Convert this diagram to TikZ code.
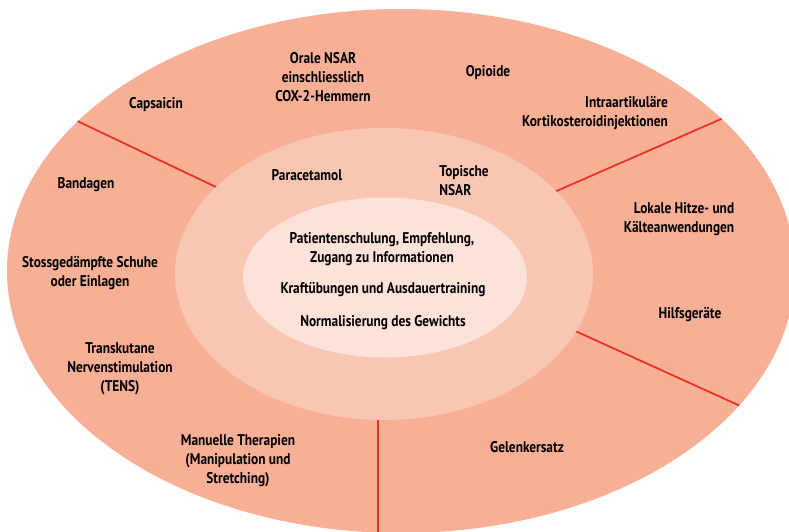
\documentclass[tikz,border=0pt]{standalone}
\usepackage{fontspec}
\setmainfont{PT Sans}[FakeStretch=0.86]
\usepackage{xcolor}

\definecolor{ringout}{RGB}{247,175,150}
\definecolor{ringmid}{RGB}{249,198,180}
\definecolor{ringin}{RGB}{252,226,216}
\definecolor{divred}{RGB}{237,50,36}

\begin{document}
\begin{tikzpicture}[x=1pt, y=-1pt]
    % Define styles
    \tikzstyle{ring}=[draw=none]
    \tikzstyle{divider}=[draw=divred, line width=1.8pt]
    \tikzstyle{label}=[align=center, inner sep=0pt, font=\bfseries\fontsize{15.5}{19}\selectfont]

    \useasboundingbox (0,0) rectangle (789,531);

    % Outer ring
    \fill[ring, ringout] (401,271) ellipse [x radius=394, y radius=262];

    % Dividers, cut at the outer edge, inner ends hidden by the middle ring
    \begin{scope}
        \clip (401,271) ellipse [x radius=394, y radius=262];
        \draw[divider] (260,208) -- (50,108);
        \draw[divider] (520,207) -- (760,102);
        \draw[divider] (540,315) -- (780,424);
        \draw[divider] (378,400) -- (378,545);
    \end{scope}

    % Middle and inner rings
    \fill[ring, ringmid] (384,274) ellipse [x radius=209, y radius=146];
    \fill[ring, ringin] (385,277.5) ellipse [x radius=142, y radius=80];

    % Outer ring: other measures
    \node[label] (capsaicin) at (156,105) {Capsaicin};
    \node[label] (nsar) at (323,77) {Orale NSAR\\einschliesslich\\COX-2-Hemmern};
    \node[label] (opioide) at (488,73) {Opioide};
    \node[label, align=right] (injekt) at (595,113.5) {Intraartikuläre\\Kortikosteroidinjektionen};
    \node[label] (bandagen) at (86,185) {Bandagen};
    \node[label] (schuhe) at (90,273.5) {Stossgedämpfte Schuhe\\oder Einlagen};
    \node[label] (tens) at (120,369) {Transkutane\\Nervenstimulation\\(TENS)};
    \node[label] (manuell) at (238,461) {Manuelle Therapien\\(Manipulation und\\Stretching)};
    \node[label] (gelenk) at (527,447) {Gelenkersatz};
    \node[label] (hilfs) at (690,315) {Hilfsgeräte};
    \node[label, align=right] (hitze) at (679,219) {Lokale Hitze- und\\Kälteanwendungen};

    % Middle ring
    \node[label] (para) at (307,175) {Paracetamol};
    \node[label, align=left] (topisch) at (464,180.5) {Topische\\NSAR};

    % Core
    \node[label] (schulung) at (382,249) {Patientenschulung, Empfehlung,\\Zugang zu Informationen};
    \node[label] (kraft) at (383,290) {Kraftübungen und Ausdauertraining};
    \node[label] (gewicht) at (383,323) {Normalisierung des Gewichts};
\end{tikzpicture}
\end{document}
